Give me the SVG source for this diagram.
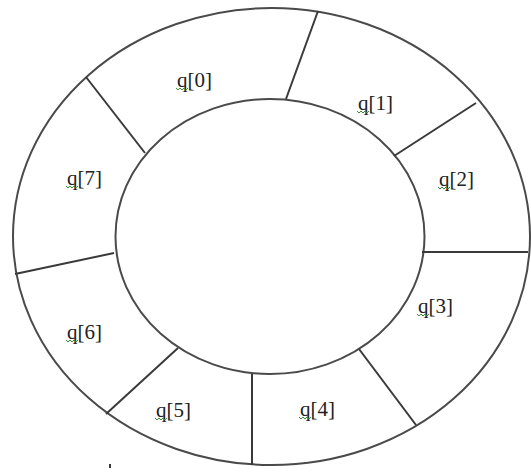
<svg xmlns="http://www.w3.org/2000/svg" width="531" height="472" viewBox="0 0 531 472">
<style>
.ring{fill:none;stroke:#4a4a4a;stroke-width:2}
.div{stroke:#3a3a3a;stroke-width:2;fill:none}
.lbl{font-family:"Liberation Serif","Times New Roman",serif;font-size:21px;fill:#222}
.sq{fill:none;stroke:#3c8c3c;stroke-width:1}
</style>
<rect width="531" height="472" fill="#ffffff"/>
<g id="rings">
<ellipse class="ring" cx="271.5" cy="236.5" rx="258.5" ry="228.5"/>
<ellipse class="ring" cx="270" cy="236.5" rx="154.5" ry="137.5"/>
</g>
<g id="connectors">
<line class="div" x1="318" y1="11" x2="286" y2="99"/>
<line class="div" x1="476" y1="103" x2="394" y2="156"/>
<line class="div" x1="422" y1="252" x2="528" y2="252"/>
<line class="div" x1="359" y1="349" x2="416" y2="425"/>
<line class="div" x1="252" y1="374" x2="252" y2="465"/>
<line class="div" x1="178" y1="348" x2="106" y2="414"/>
<line class="div" x1="114" y1="253" x2="15" y2="274"/>
<line class="div" x1="86" y1="77" x2="145" y2="153"/>
<line class="div" x1="110" y1="464" x2="110" y2="468" stroke-width="1"/>
</g>
<g id="q0"><text class="lbl" x="177" y="86.5">q[0]</text><path class="sq" d="M176,88 l2,2 l2,-2 l2,2 l2,-2 l2,2 l2,-2"/></g>
<g id="q1"><text class="lbl" x="358" y="109.5">q[1]</text><path class="sq" d="M357,111 l2,2 l2,-2 l2,2 l2,-2 l2,2 l2,-2"/></g>
<g id="q2"><text class="lbl" x="439" y="185.5">q[2]</text><path class="sq" d="M438,187 l2,2 l2,-2 l2,2 l2,-2 l2,2 l2,-2"/></g>
<g id="q3"><text class="lbl" x="418" y="312.5">q[3]</text><path class="sq" d="M417,314 l2,2 l2,-2 l2,2 l2,-2 l2,2 l2,-2"/></g>
<g id="q4"><text class="lbl" x="300" y="415.5">q[4]</text><path class="sq" d="M299,417 l2,2 l2,-2 l2,2 l2,-2 l2,2 l2,-2"/></g>
<g id="q5"><text class="lbl" x="156" y="416.5">q[5]</text><path class="sq" d="M155,418 l2,2 l2,-2 l2,2 l2,-2 l2,2 l2,-2"/></g>
<g id="q6"><text class="lbl" x="67" y="338.5">q[6]</text><path class="sq" d="M66,340 l2,2 l2,-2 l2,2 l2,-2 l2,2 l2,-2"/></g>
<g id="q7"><text class="lbl" x="67" y="184.5">q[7]</text><path class="sq" d="M66,186 l2,2 l2,-2 l2,2 l2,-2 l2,2 l2,-2"/></g>
</svg>
